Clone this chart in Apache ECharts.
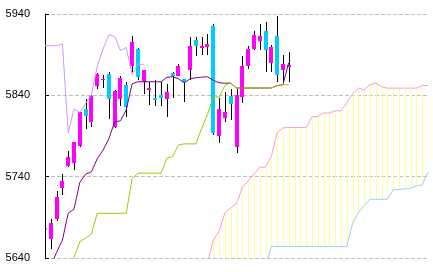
<!DOCTYPE html>
<html>
<head>
<meta charset="utf-8">
<script src="https://cdn.jsdelivr.net/npm/echarts@6/dist/echarts.min.js"></script>
<style>
html,body{margin:0;padding:0;background:#fff;}
#chart{width:433px;height:272px;}
</style>
</head>
<body>
<div id="chart"></div>
<script>
// ---- data ----
const categories = Array.from({length: 67}, (_, i) => String(i + 1));
const yTicks = [5640, 5740, 5840, 5940];

const opens  = [5677, 5663.4, 5688, 5726.5, 5753.2, 5757.3, 5777.5, 5823.4, 5807.8, 5850.9, 5858.3, 5866.5, 5801.6, 5835.7, 5853, 5875.5, 5897.3, 5855.8, 5846.8, 5837.3, 5839.8, 5835.4, 5867.7, 5864, 5860.3, 5870.6, 5908.4, 5898.5, 5899.4, 5924.7, 5790.2, 5812.7, 5839.4, 5776.3, 5837.8, 5875.5, 5896.9, 5906.3, 5918.6, 5879.7, 5912.4, 5870.6, 5874.3];
const closes = [5675, 5683.1, 5715.5, 5735.1, 5764.7, 5782.8, 5819.4, 5815.2, 5839.4, 5866.5, 5860.3, 5836.1, 5845.9, 5861.2, 5826.2, 5905, 5862.4, 5871.4, 5849.6, 5834.5, 5836.9, 5844.3, 5863.2, 5876.4, 5857, 5901, 5901, 5901, 5903.1, 5794.2, 5823, 5818.9, 5829.9, 5840.6, 5875.5, 5896.9, 5914.5, 5912.4, 5895.2, 5898.9, 5865.3, 5878.8, 5877.6];
const lows   = [5674, 5650.7, 5685.5, 5717.5, 5751.6, 5748.3, 5776.3, 5798.8, 5801, 5847.7, 5848.7, 5810.7, 5800, 5827.1, 5813.9, 5869, 5859.1, 5841.9, 5828.3, 5827.1, 5827.1, 5812.9, 5836.3, 5864, 5832.4, 5859.1, 5887.8, 5889.3, 5889.3, 5791.4, 5781.9, 5807.8, 5809.9, 5769.6, 5830.8, 5871.8, 5896, 5896, 5868.1, 5868.1, 5856, 5856.7, 5855.8];
const highs  = [5678, 5687.6, 5722.5, 5743.4, 5772.1, 5783, 5820, 5835.4, 5840, 5867, 5864.9, 5868.1, 5846, 5864, 5855.8, 5913.3, 5898, 5871.5, 5856.7, 5859.1, 5857.9, 5854.2, 5869, 5878.2, 5860.3, 5912.1, 5911.7, 5912, 5915.1, 5928.1, 5837.3, 5843.5, 5848, 5847.7, 5888.7, 5901, 5919.4, 5928.1, 5929.7, 5902.2, 5937, 5889.9, 5892.7];

// conversion line (dark purple)
const tenkan = [null, 5630, 5647, 5662, 5695, 5700, 5733, 5743, 5746, 5762, 5772.5, 5786.5, 5807.4, 5808.6, 5822, 5854, 5856.7, 5856.7, 5856.7, 5856.7, 5856.7, 5862.2, 5862.8, 5860.3, 5855.4, 5860.3, 5861.6, 5862.4, 5862.8, 5858.5, 5855.4, 5855, 5855, 5849, 5849, 5849, 5849, 5849, 5849, 5849, 5852, 5853, 5880];
// base line (yellow green)
const kijun = [null, null, null, null, 5620, 5641, 5660, 5664.6, 5669.5, 5695, 5695, 5695, 5695, 5695, 5695, 5737, 5744.3, 5744.3, 5744.3, 5744.3, 5744.3, 5762.7, 5764.7, 5779.1, 5780.3, 5780.3, 5780.3, 5799.4, 5816.3, 5838, 5838, 5852.2, 5855, 5849, 5849, 5849, 5849, 5849, 5849, 5849, 5852, 5853, 5853];
// lagging span (light purple)
const chikou = [5901, 5901, 5901, 5903, 5794, 5823, 5819, 5830, 5840.6, 5875.5, 5896.9, 5914.5, 5912.4, 5895.2, 5898.9, 5865.3, 5878.8, 5877.6];
// leading span A (pink), starts at index 28
const senkouA = [5634, 5662, 5672.8, 5695.4, 5701.5, 5707, 5726.8, 5734.8, 5743.4, 5751.6, 5751.6, 5765, 5793.9, 5800, 5800.4, 5800.4, 5800.4, 5800.4, 5813.6, 5814, 5818.5, 5818.1, 5821, 5821, 5830.8, 5841.9, 5848.9, 5846.8, 5853, 5854.8, 5850.5, 5848.9, 5848.9, 5848.9, 5848.9, 5848.9, 5848.9, 5852.1, 5852.1];
const senkouAStart = 28;
// leading span B (light blue), starts at index 38
const senkouB = [5628, 5654, 5654, 5654, 5654, 5654, 5654, 5654, 5654, 5654, 5654, 5654, 5654, 5654, 5654, 5682.5, 5695.9, 5704.4, 5712.2, 5712.2, 5712.2, 5712.2, 5723.7, 5724.3, 5724.9, 5725.8, 5728.6, 5729.9, 5745.5];
const senkouBStart = 38;

// ---- build series data ----
const N = categories.length;
const yMin = yTicks[0], yMax = yTicks[yTicks.length - 1];
function pad(arr, start) {
  const out = new Array(N).fill(null);
  arr.forEach((v, k) => { if (start + k < N) out[start + k] = v; });
  return out;
}
const spanA = pad(senkouA, senkouAStart);
const spanB = pad(senkouB, senkouBStart);
const candleData = opens.map((o, i) => [i, o, closes[i], lows[i], highs[i]]);
const cloudData = [];
for (let i = 0; i < N; i++) {
  if (spanA[i] != null) cloudData.push([i, spanA[i], spanB[i] != null ? spanB[i] : yMin]);
}

const chart = echarts.init(document.getElementById('chart'), null, {renderer: 'canvas'});

function clampY(y, cs) { return Math.max(cs.y, Math.min(cs.y + cs.height, y)); }

function renderCloud(params, api) {
  const cs = params.coordSys;
  const i = api.value(0);
  const pa = api.coord([i, api.value(1)]);
  const pb = api.coord([i, api.value(2)]);
  const x = Math.round(pa[0]) + 0.5;
  if (x > cs.x + cs.width) return null;
  const y1 = clampY(pa[1], cs), y2 = clampY(pb[1], cs);
  if (Math.abs(y2 - y1) < 0.5) return null;
  return { type: 'line', shape: { x1: x, y1: y1, x2: x, y2: y2 },
           style: { stroke: '#ffff99', lineWidth: 1 } };
}

function renderCandle(params, api) {
  const cs = params.coordSys;
  const i = api.value(0);
  const o = api.value(1), c = api.value(2), l = api.value(3), h = api.value(4);
  const pO = api.coord([i, o]), pC = api.coord([i, c]);
  const pL = api.coord([i, l]), pH = api.coord([i, h]);
  const xc = Math.round(pO[0]);
  const up = c >= o;
  const top = Math.round(Math.min(pO[1], pC[1]));
  const bot = Math.round(Math.max(pO[1], pC[1]));
  const children = [];
  if (xc >= cs.x + 1) {
    children.push({ type: 'line',
      shape: { x1: xc + 0.5, y1: Math.round(pH[1]), x2: xc + 0.5, y2: Math.round(pL[1]) },
      style: { stroke: '#000', lineWidth: 1 } });
  }
  const rect = echarts.graphic.clipRectByRect(
    { x: xc - 2, y: top, width: 4, height: Math.max(1, bot - top) },
    { x: cs.x + 1, y: cs.y, width: cs.width, height: cs.height });
  if (rect) children.push({ type: 'rect', shape: rect, style: { fill: up ? '#ff00ff' : '#00ccff' } });
  return { type: 'group', children: children };
}

function lineSeries(name, data, color) {
  return { name: name, type: 'line', data: data, symbol: 'none', silent: true,
           lineStyle: { color: color, width: 1 }, clip: true, connectNulls: false };
}

const option = {
  animation: false,
  backgroundColor: '#ffffff',
  grid: { left: 45, right: 5, top: 14, bottom: 14 },
  xAxis: {
    type: 'category', data: categories, boundaryGap: false,
    axisLine: { show: false }, axisTick: { show: false }, axisLabel: { show: false },
    splitLine: { show: false }
  },
  yAxis: {
    type: 'value', min: yMin, max: yMax, interval: yTicks[1] - yTicks[0],
    axisLine: { show: true, lineStyle: { color: '#000', width: 1 } },
    axisTick: { show: true, inside: true, length: 4, lineStyle: { color: '#000' } },
    axisLabel: { color: '#000', fontSize: 11, fontFamily: 'Liberation Sans', margin: 15,
                 formatter: function (v) { return String(v); } },
    splitLine: { show: true, lineStyle: { color: '#c0c0c0', type: [4, 2], width: 1 } }
  },
  series: [
    { type: 'custom', renderItem: renderCloud, data: cloudData, silent: true,
      encode: { x: 0, y: [1, 2] } },
    lineSeries('senkouB', spanB, '#99ccff'),
    lineSeries('senkouA', spanA, '#ff99cc'),
    lineSeries('chikou', pad(chikou, 0), '#cc99ff'),
    lineSeries('tenkan', pad(tenkan, 0), '#800080'),
    lineSeries('kijun', pad(kijun, 0), '#99cc00'),
    { type: 'custom', renderItem: renderCandle, data: candleData, silent: true,
      encode: { x: 0, y: [1, 2, 3, 4] } }
  ]
};
chart.setOption(option);
</script>
</body>
</html>
